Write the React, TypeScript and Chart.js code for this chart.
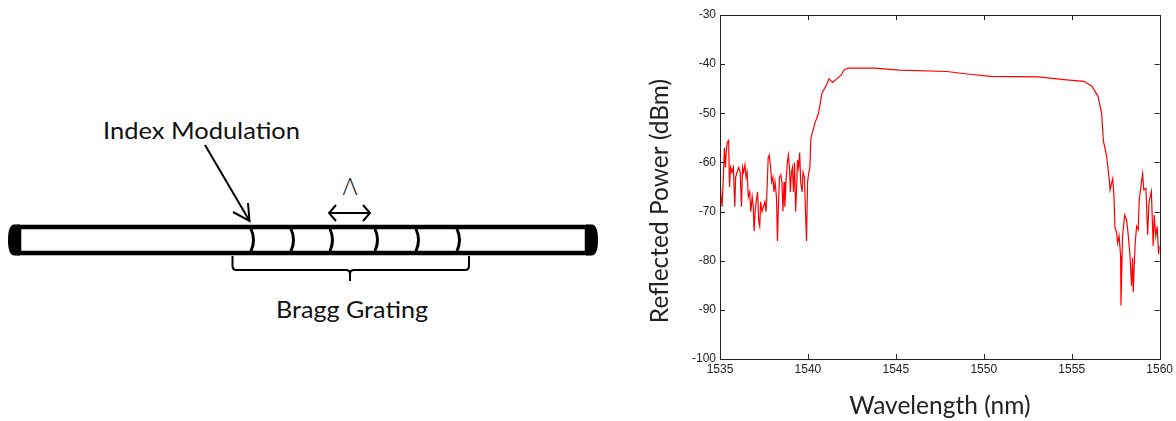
import React, { useEffect, useRef } from "react";
import { Chart, registerables } from "chart.js";

Chart.register(...registerables);

// Wavelength (nm) samples
const wavelengthNm = [
  1535.0, 1535.06, 1535.12, 1535.19, 1535.25, 1535.31, 1535.35, 1535.41, 1535.49, 1535.54,
  1535.6, 1535.68, 1535.76, 1535.84, 1535.89, 1535.97, 1536.07, 1536.15, 1536.22, 1536.28,
  1536.34, 1536.42, 1536.48, 1536.54, 1536.61, 1536.69, 1536.75, 1536.83, 1536.89, 1536.94,
  1537.0, 1537.06, 1537.14, 1537.2, 1537.26, 1537.31, 1537.39, 1537.47, 1537.55, 1537.62,
  1537.68, 1537.74, 1537.8, 1537.88, 1537.94, 1538.01, 1538.07, 1538.13, 1538.21, 1538.27,
  1538.32, 1538.38, 1538.46, 1538.52, 1538.58, 1538.64, 1538.69, 1538.75, 1538.83, 1538.89,
  1538.95, 1539.0, 1539.06, 1539.12, 1539.18, 1539.24, 1539.3, 1539.35, 1539.41, 1539.47,
  1539.53, 1539.59, 1539.67, 1539.72, 1539.8, 1539.86, 1539.92, 1539.98, 1540.05, 1540.11,
  1540.17, 1540.25, 1540.4, 1540.6, 1540.8, 1541.1, 1541.2, 1541.4, 1541.6, 1541.9,
  1542.05, 1542.3, 1543.8, 1545.2, 1547.9, 1549.05, 1550.4, 1553.1, 1554.7, 1555.7,
  1556.15, 1556.5, 1556.7, 1556.8, 1556.98, 1557.14, 1557.18, 1557.33, 1557.4, 1557.46,
  1557.55, 1557.61, 1557.69, 1557.78, 1557.8, 1557.89, 1558.01, 1558.12, 1558.21, 1558.31,
  1558.4, 1558.46, 1558.5, 1558.56, 1558.61, 1558.69, 1558.78, 1558.84, 1558.91, 1559.03,
  1559.1, 1559.22, 1559.32, 1559.39, 1559.53, 1559.63, 1559.69, 1559.78, 1559.86, 1559.94,
  1560.0,
];

// Reflected power (dBm) at each wavelength above
const reflectedDbm = [
  -63, -67, -69, -63, -57, -61, -58, -56, -55.5, -65,
  -61, -62, -61, -69, -63, -62, -61, -62, -69, -61,
  -62, -60.5, -63, -62, -67, -66, -70, -67, -69, -74,
  -70, -68, -66, -72, -73, -68, -70, -69, -68, -70,
  -65, -59, -58.5, -61, -64, -63, -66, -64, -67, -76,
  -69, -63, -62.5, -64, -70, -64, -69, -64, -60, -58.5,
  -61, -66, -62, -61, -66, -60, -70, -66, -59.5, -61,
  -58, -64, -66, -62, -63, -70, -76, -64, -62, -61,
  -55, -54, -52, -50, -45.9, -43.9, -43, -43.7, -43.1, -42.2,
  -41.2, -40.8, -40.8, -41.2, -41.5, -42, -42.5, -42.6, -43.2, -43.5,
  -44.5, -46.6, -50, -55.6, -58.6, -63.6, -65.6, -63.3, -66.6, -73.3,
  -74.3, -76.4, -74.9, -79, -89.1, -75, -70.7, -71.7, -74.7, -78.7,
  -85.1, -79.4, -86.4, -80.7, -76.4, -73, -73.7, -67.6, -65.6, -62.3,
  -65.6, -65.3, -74.7, -68.2, -65.9, -77, -70.7, -75, -73, -78.7,
  -77,
];

const xTickValues = [1535, 1540, 1545, 1550, 1555, 1560];
const yTickValues = [-100, -90, -80, -70, -60, -50, -40, -30];

const xAxisTitle = "Wavelength (nm)";
const yAxisTitle = "Reflected Power (dBm)";

const gratingLineX = [251, 291, 330, 375, 416, 457];

const TITLE_FONT = "24.5px Lato, 'Open Sans', sans-serif";

const boxTicksPlugin = {
  id: "boxTicks",
  afterDraw(chart: any) {
    const { ctx, chartArea: a, scales } = chart;
    const xs = scales.x;
    const ys = scales.y;
    const L = 5;
    ctx.save();
    ctx.strokeStyle = "#222";
    ctx.lineWidth = 1;
    ctx.strokeRect(Math.round(a.left) + 0.5, Math.round(a.top) + 0.5, Math.round(a.right - a.left), Math.round(a.bottom - a.top));
    ctx.beginPath();
    for (const v of xTickValues) {
      const px = Math.round(xs.getPixelForValue(v)) + 0.5;
      ctx.moveTo(px, a.bottom);
      ctx.lineTo(px, a.bottom - L);
      ctx.moveTo(px, a.top);
      ctx.lineTo(px, a.top + L);
    }
    for (const v of yTickValues) {
      const py = Math.round(ys.getPixelForValue(v)) + 0.5;
      ctx.moveTo(a.left, py);
      ctx.lineTo(a.left + L, py);
      ctx.moveTo(a.right, py);
      ctx.lineTo(a.right - L, py);
    }
    ctx.stroke();
    // y-axis title (placed slightly below the axis centre, as in the reference)
    ctx.translate(20, 201);
    ctx.rotate(-Math.PI / 2);
    ctx.font = TITLE_FONT;
    ctx.fillStyle = "#222";
    ctx.textAlign = "center";
    ctx.textBaseline = "middle";
    ctx.fillText(yAxisTitle, 0, 0);
    ctx.restore();
  },
};

function SpectrumChart() {
  const ref = useRef<HTMLCanvasElement | null>(null);
  useEffect(() => {
    if (!ref.current) return;
    const points = wavelengthNm.map((x, i) => ({ x, y: reflectedDbm[i] }));
    const tickFont = { family: "'Liberation Sans', Arial, sans-serif", size: 12 };
    const titleFont = { family: "Lato, 'Open Sans', sans-serif", size: 24.5 };
    const chart = new Chart(ref.current, {
      type: "scatter",
      data: {
        datasets: [
          {
            data: points,
            showLine: true,
            borderColor: "#ff0000",
            backgroundColor: "#ff0000",
            borderWidth: 1.2,
            pointRadius: 0,
            tension: 0,
          },
        ],
      },
      options: {
        responsive: false,
        maintainAspectRatio: false,
        animation: false,
        layout: { padding: { top: 15, right: 15, left: 0, bottom: 0 } },
        plugins: { legend: { display: false }, tooltip: { enabled: false } },
        scales: {
          x: {
            type: "linear",
            min: 1535,
            max: 1560,
            afterBuildTicks: (s: any) => {
              s.ticks = xTickValues.map((value) => ({ value }));
            },
            afterFit: (s: any) => {
              s.height = 62;
            },
            grid: { display: false, drawTicks: false },
            border: { display: false },
            ticks: {
              font: tickFont,
              color: "#222",
              padding: 3,
              maxRotation: 0,
              autoSkip: false,
              callback: (v: any) => String(v),
            },
            title: { display: true, text: xAxisTitle, font: titleFont, color: "#222", padding: { top: 0, bottom: 0 } },
          },
          y: {
            type: "linear",
            min: -100,
            max: -30,
            afterBuildTicks: (s: any) => {
              s.ticks = yTickValues.map((value) => ({ value }));
            },
            afterFit: (s: any) => {
              s.width = 80;
            },
            grid: { display: false, drawTicks: false },
            border: { display: false },
            ticks: { font: tickFont, color: "#222", padding: 4, autoSkip: false, callback: (v: any) => String(v) },
            title: { display: false },
          },
        },
      },
      plugins: [boxTicksPlugin],
    } as any);
    return () => chart.destroy();
  }, []);
  return (
    <canvas
      ref={ref}
      width={536}
      height={421}
      style={{ position: "absolute", left: 640, top: 0, width: 536, height: 421, display: "block" }}
    />
  );
}

function GratingDiagram() {
  const textFont = "Lato, 'Open Sans', sans-serif";
  return (
    <svg width={640} height={421} style={{ position: "absolute", left: 0, top: 0 }}>
      {/* fiber body */}
      <rect x={19} y={227} width={568} height={26} fill="#fff" stroke="#000" strokeWidth={4.5} />
      {/* end caps */}
      <path d="M20 224.5 L14 224.5 Q8 225 8 240 Q8 255 14 255.5 L20 255.5 Z" fill="#000" />
      <path d="M586 224.5 L592 224.5 Q598 225 598 240 Q598 255 592 255.5 L586 255.5 Z" fill="#000" />
      {/* index modulation lines */}
      {gratingLineX.map((x) => (
        <path key={x} d={`M${x} 229 Q${x + 5} 240 ${x} 251`} fill="none" stroke="#000" strokeWidth={3} />
      ))}
      {/* brace */}
      <path
        d="M232.5 256 L232.5 266 Q232.5 270 236.5 270 L346 270 Q350 270 350 274 L350 281 M350 274 Q350 270 354 270 L465 270 Q469 270 469 266 L469 256"
        fill="none"
        stroke="#000"
        strokeWidth={2}
      />
      {/* arrow to index modulation */}
      <line x1={205} y1={145} x2={249} y2={220} stroke="#000" strokeWidth={2} />
      <path d="M233 212 L249.5 221 L248 203" fill="none" stroke="#000" strokeWidth={2} />
      {/* period double arrow */}
      <line x1={329} y1={213} x2={370} y2={213} stroke="#000" strokeWidth={2} />
      <path d="M336 205 L329 213 L336 221" fill="none" stroke="#000" strokeWidth={2} />
      <path d="M363 205 L370 213 L363 221" fill="none" stroke="#000" strokeWidth={2} />
      <text x={350} y={195} fontFamily={textFont} fontSize={23} fontWeight={300} fill="#111" textAnchor="middle">
        Λ
      </text>
      <text x={103} y={139} fontFamily={textFont} fontSize={24} fill="#111" textLength={197} lengthAdjust="spacingAndGlyphs">
        Index Modulation
      </text>
      <text x={276} y={318} fontFamily={textFont} fontSize={24} fill="#111" textLength={152} lengthAdjust="spacingAndGlyphs">
        Bragg Grating
      </text>
    </svg>
  );
}

export default function App() {
  return (
    <div style={{ position: "absolute", left: 0, top: 0, width: 1176, height: 421, background: "#fff", overflow: "hidden" }}>
      <GratingDiagram />
      <SpectrumChart />
    </div>
  );
}
